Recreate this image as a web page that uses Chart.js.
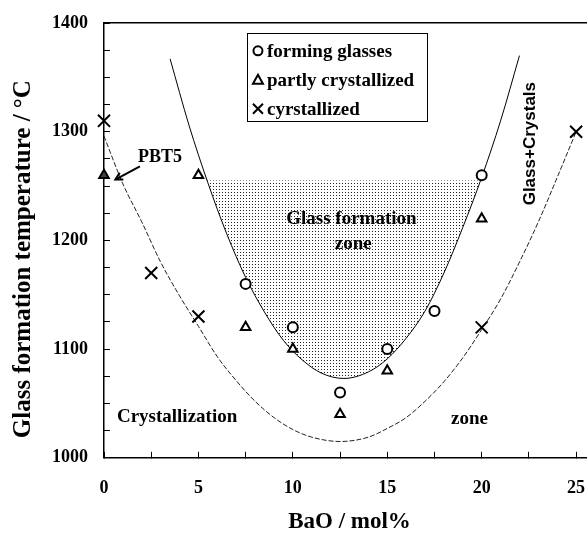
<!DOCTYPE html>
<html>
<head>
<meta charset="utf-8">
<script src="https://cdn.jsdelivr.net/npm/chart.js@4.4.0/dist/chart.umd.min.js"></script>
<style>
  html, body { margin: 0; padding: 0; background: #fff; overflow: hidden; }
  #wrap { position: relative; width: 606px; height: 533px; }
</style>
</head>
<body>
<div id="wrap"><canvas id="chartScatter" width="606" height="533"></canvas></div>
<script>
// measured points
const glassX = [7.5, 10, 12.5, 15, 17.5, 20];
const glassY = [1160, 1120, 1060, 1100, 1135, 1260];
const partlyX = [0, 5, 7.5, 10, 12.5, 15, 20];
const partlyY = [1260, 1260, 1120, 1100, 1040, 1080, 1220];
const crystX = [0, 2.5, 5, 20, 25];
const crystY = [1310, 1170, 1130, 1120, 1300];

// boundary curves
const innerX = [3.5, 4.5, 5.5, 6.5, 7.5, 8.5, 9.5, 10.5, 11.5, 12.7, 14, 15, 16, 17, 18, 19, 20, 21, 22];
const innerY = [1367, 1306, 1253, 1206, 1166, 1134, 1108, 1090, 1078, 1073, 1079, 1091, 1110, 1135, 1170, 1212, 1258, 1310, 1370];
const outerX = [0, 1, 2, 3, 4, 5, 6, 7, 8, 9, 10, 11, 12.5, 14, 15, 16, 17, 18, 19, 20, 21, 22, 23, 24, 25];
const outerY = [1296, 1252, 1217, 1180, 1149, 1121, 1093, 1071, 1052, 1037, 1026, 1019, 1015, 1019, 1027, 1037, 1052, 1070, 1092, 1118, 1146, 1180, 1217, 1258, 1300];

// glass formation zone (below the 1255 line)
const shadeX = [5.45, 6.5, 7.5, 8.5, 9.5, 10.5, 11.5, 12.7, 14, 15, 16, 17, 18, 19, 19.95];
const shadeY = [1255, 1206, 1166, 1134, 1108, 1090, 1078, 1073, 1079, 1091, 1110, 1135, 1170, 1212, 1255];
const shadeTop = 1255;

const xLabels = [0, 5, 10, 15, 20, 25];
const yLabels = [1000, 1100, 1200, 1300, 1400];
const legendNames = ['forming glasses', 'partly crystallized', 'cyrstallized'];

const serif = '"Liberation Serif", "Times New Roman", serif';

function pts(xs, ys) {
	return xs.map((x, i) => ({ x: x, y: ys[i] }));
}

function dotPattern() {
	const c = document.createElement('canvas');
	c.width = 3;
	c.height = 3;
	const g = c.getContext('2d');
	g.fillStyle = '#222';
	g.fillRect(0, 0, 1, 1);
	return g.createPattern(c, 'repeat');
}

function marker(ctx, style, x, y) {
	ctx.save();
	ctx.strokeStyle = '#000';
	ctx.lineWidth = 2;
	ctx.beginPath();
	if (style === 'circle') {
		ctx.arc(x, y, 4.5, 0, Math.PI * 2);
	} else if (style === 'triangle') {
		ctx.moveTo(x, y - 5);
		ctx.lineTo(x + 5, y + 4);
		ctx.lineTo(x - 5, y + 4);
		ctx.closePath();
	} else {
		ctx.moveTo(x - 5, y - 5);
		ctx.lineTo(x + 5, y + 5);
		ctx.moveTo(x + 5, y - 5);
		ctx.lineTo(x - 5, y + 5);
	}
	ctx.stroke();
	ctx.restore();
}

// texts, arrow and the legend box placed in data coordinates
const notes = {
	id: 'notes',
	afterDatasetsDraw(chart) {
		const ctx = chart.ctx;
		const sx = chart.scales.x;
		const sy = chart.scales.y;
		const px = (v) => sx.getPixelForValue(v);
		const py = (v) => sy.getPixelForValue(v);

		ctx.save();
		ctx.fillStyle = '#000';
		ctx.textBaseline = 'middle';
		ctx.font = 'bold 18px ' + serif;

		ctx.textAlign = 'left';
		ctx.fillText('PBT5', px(1.8), py(1276));

		ctx.textAlign = 'center';
		ctx.font = 'bold 19px ' + serif;
		ctx.fillText('Glass formation', px(13.1), py(1220));
		ctx.fillText('zone', px(13.2), py(1197));
		ctx.fillText('Crystallization', px(3.87), py(1037));
		ctx.fillText('zone', px(19.35), py(1036));

		// arrow to PBT5
		const ax1 = px(1.9), ay1 = py(1268), ax2 = px(0.6), ay2 = py(1256);
		ctx.strokeStyle = '#000';
		ctx.lineWidth = 2;
		ctx.beginPath();
		ctx.moveTo(ax1, ay1);
		ctx.lineTo(ax2, ay2);
		ctx.stroke();
		const ang = Math.atan2(ay2 - ay1, ax2 - ax1);
		ctx.beginPath();
		ctx.moveTo(ax2 - 8 * Math.cos(ang - 0.5), ay2 - 8 * Math.sin(ang - 0.5));
		ctx.lineTo(ax2, ay2);
		ctx.lineTo(ax2 - 8 * Math.cos(ang + 0.5), ay2 - 8 * Math.sin(ang + 0.5));
		ctx.stroke();

		// rotated label
		ctx.save();
		ctx.translate(px(22.56), py(1289));
		ctx.rotate(-Math.PI / 2);
		ctx.font = 'bold 17px "Liberation Sans", Arial, sans-serif';
		ctx.fillText('Glass+Crystals', 0, 0);
		ctx.restore();

		// legend box
		const lx = px(7.57), ly = py(1391), lw = px(17.1) - lx, lh = py(1310) - ly;
		ctx.fillStyle = '#fff';
		ctx.fillRect(lx, ly, lw, lh);
		ctx.strokeStyle = '#000';
		ctx.lineWidth = 1;
		ctx.strokeRect(Math.round(lx) + 0.5, Math.round(ly) + 0.5, Math.round(lw), Math.round(lh));
		const styles = ['circle', 'triangle', 'cross'];
		ctx.fillStyle = '#000';
		ctx.textAlign = 'left';
		ctx.font = 'bold 19px ' + serif;
		legendNames.forEach((name, i) => {
			const yy = ly + 18 + i * 29;
			marker(ctx, styles[i], lx + 11, yy);
			ctx.fillText(name, lx + 20, yy + 1);
		});
		ctx.restore();
	},
};

const chartDoc = document.getElementById('chartScatter');
const chartRef = new Chart(chartDoc, {
	type: 'scatter',
	data: {
		datasets: [
			{
				label: 'forming glasses',
				data: pts(glassX, glassY),
				pointStyle: 'circle',
				pointRadius: 5,
				borderColor: '#000',
				backgroundColor: '#fff',
				borderWidth: 2,
				clip: false,
			},
			{
				label: 'partly crystallized',
				data: pts(partlyX, partlyY),
				pointStyle: 'triangle',
				pointRadius: 5.5,
				borderColor: '#000',
				backgroundColor: partlyX.map((x) => (x === 0 ? '#444' : '#fff')),
				borderWidth: 2,
				clip: false,
			},
			{
				label: 'cyrstallized',
				data: pts(crystX, crystY),
				pointStyle: 'crossRot',
				pointRadius: 8.5,
				borderColor: '#000',
				borderWidth: 2,
				clip: false,
			},
			{
				label: 'inner',
				data: pts(innerX, innerY),
				showLine: true,
				pointRadius: 0,
				borderColor: '#000',
				borderWidth: 1,
				cubicInterpolationMode: 'monotone',
			},
			{
				label: 'outer',
				data: pts(outerX, outerY),
				showLine: true,
				pointRadius: 0,
				borderColor: '#222',
				borderWidth: 1,
				borderDash: [5, 2],
				cubicInterpolationMode: 'monotone',
			},
			{
				label: 'zone',
				data: pts(shadeX, shadeY),
				showLine: true,
				pointRadius: 0,
				borderWidth: 0,
				borderColor: 'rgba(0,0,0,0)',
				backgroundColor: dotPattern(),
				fill: { value: shadeTop },
				cubicInterpolationMode: 'monotone',
			},
		],
	},
	options: {
		responsive: false,
		animation: false,
		events: [],
		layout: { padding: { top: 23, right: 11, left: 8, bottom: 0 } },
		plugins: {
			legend: { display: false },
			tooltip: { enabled: false },
		},
		scales: {
			x: {
				type: 'linear',
				position: 'bottom',
				min: 0,
				max: 26,
				grid: { drawOnChartArea: false, tickLength: -6, color: '#000', lineWidth: 1 },
				border: { color: '#000', width: 1.5 },
				ticks: {
					stepSize: 2.5,
					includeBounds: false,
					autoSkip: false,
					maxRotation: 0,
					padding: 26,
					color: '#000',
					font: { family: serif, size: 18, weight: 'bold' },
					callback: (v) => (xLabels.includes(v) ? String(v) : ''),
				},
				afterFit: (s) => {
					s.paddingRight = 0;
				},
				title: {
					display: true,
					text: 'BaO / mol%',
					color: '#000',
					font: { family: serif, size: 23, weight: 'bold' },
					padding: { top: -17, bottom: -3 },
				},
			},
			x2: {
				type: 'linear',
				position: 'top',
				min: 0,
				max: 26,
				grid: { display: false, drawTicks: false },
				border: { display: true, color: '#000', width: 1.5 },
				ticks: { display: false },
			},
			y: {
				min: 1000,
				max: 1400,
				grid: { drawOnChartArea: false, tickLength: -6, color: '#000', lineWidth: 1 },
				border: { color: '#000', width: 1.5 },
				ticks: {
					stepSize: 25,
					autoSkip: false,
					padding: 22,
					color: '#000',
					font: { family: serif, size: 18, weight: 'bold' },
					callback: (v) => (yLabels.includes(v) ? String(v) : ''),
				},
				afterFit: (s) => {
					s.paddingTop = 11;
					s.paddingBottom = 11;
				},
				title: {
					display: true,
					text: 'Glass formation temperature / \u00B0C      ',
					color: '#000',
					font: { family: serif, size: 25, weight: 'bold' },
					padding: { top: 1, bottom: -9 },
				},
			},
		},
	},
	plugins: [notes],
});
</script>
</body>
</html>
